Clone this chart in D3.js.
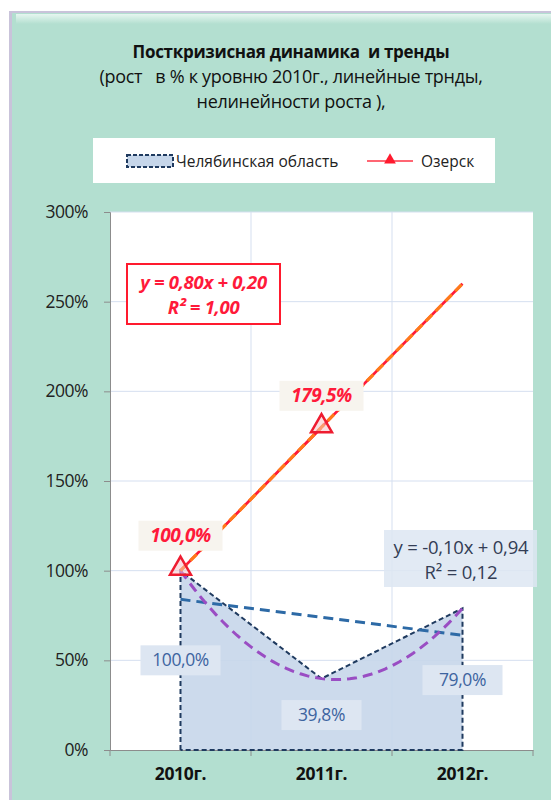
<!DOCTYPE html>
<html><head><meta charset="utf-8">
<script src="https://cdn.jsdelivr.net/npm/d3@7"></script>
<style>body{margin:0;background:#fff;}svg{display:block;} text{white-space:pre;}</style>
</head><body>
<script>
const categories = ["2010г.", "2011г.", "2012г."];
const chelyabinsk = [1.000, 0.398, 0.790];
const ozersk = [1.000, 1.795];
const chelLabels = ["100,0%", "39,8%", "79,0%"];
const ozLabels = ["100,0%", "179,5%"];
const yTicks = [0, 0.5, 1, 1.5, 2, 2.5, 3];
const ozTrend = {a: 0.80, b: 0.20, text: ["y = 0,80x + 0,20", "R² = 1,00"]};
const chelTrend = {a: -0.10, b: 0.94, text: ["y = -0,10x + 0,94", "R² = 0,12"]};
const titleLines = ["Посткризисная динамика  и тренды", "(рост   в % к уровню 2010г., линейные трнды,", "нелинейности роста ),"];
const legendNames = ["Челябинская область", "Озерск"];

const W = 551, H = 800;
const font = "'Open Sans', sans-serif";
const svg = d3.select("body").append("svg").attr("width", W).attr("height", H);

// panel
const defs = svg.append("defs");
const g1 = defs.append("linearGradient").attr("id","bevel").attr("x1",0).attr("y1",0).attr("x2",0).attr("y2",1);
g1.append("stop").attr("offset",0).attr("stop-color","#e6f6f0");
g1.append("stop").attr("offset",1).attr("stop-color","#b3dfd0");
svg.append("rect").attr("x",9).attr("y",11).attr("width",W-9).attr("height",H-11).attr("fill","#c9c3da");
svg.append("rect").attr("x",12).attr("y",13).attr("width",W-12).attr("height",H-13).attr("fill","#b3dfd0");
svg.append("rect").attr("x",16).attr("y",14).attr("width",W-16).attr("height",10).attr("fill","url(#bevel)");

// title
const tt = svg.append("g").attr("font-family", font).attr("fill","#111").attr("text-anchor","middle");
titleLines.forEach((t,i)=>{
  tt.append("text").attr("x",291).attr("y",58+i*25).attr("font-size",i===0?17:18)
    .attr("font-weight", i===0?"bold":"normal").attr("letter-spacing", -0.3).text(t);
});

// legend
svg.append("rect").attr("x",93).attr("y",138).attr("width",402).attr("height",45).attr("fill","#fff");
svg.append("rect").attr("x",127).attr("y",155).attr("width",46).attr("height",12).attr("fill","#c6d6ea")
  .attr("stroke","#1f3a5f").attr("stroke-width",2).attr("stroke-dasharray","4,2");
svg.append("text").attr("x",176).attr("y",167).attr("font-family",font).attr("font-size",15.5).attr("fill","#222").text(legendNames[0]);
svg.append("line").attr("x1",367).attr("x2",413).attr("y1",161).attr("y2",161).attr("stroke","#ff3344").attr("stroke-width",1.5);
svg.append("path").attr("d", d3.symbol(d3.symbolTriangle, 60)()).attr("transform","translate(390,160)").attr("fill","#ff1a2e");
svg.append("text").attr("x",421).attr("y",167).attr("font-family",font).attr("font-size",15.5).attr("fill","#222").text(legendNames[1]);

// scales
const x = d3.scaleBand().domain(categories).range([110, 533]);
const xc = d => x(d) + x.bandwidth()/2;
const y = d3.scaleLinear().domain([0,3]).range([750, 212]);
const xi = i => xc(categories[i]);

svg.append("rect").attr("x",110).attr("y",212).attr("width",423).attr("height",538).attr("fill","#fff");

// gridlines
svg.append("g").selectAll("line").data(yTicks.slice(1)).join("line")
  .attr("x1",110).attr("x2",533).attr("y1",d=>y(d)).attr("y2",d=>y(d)).attr("stroke","#d5dff0").attr("stroke-width",1);
svg.append("g").selectAll("line").data(categories.slice(1)).join("line")
  .attr("x1",d=>x(d)).attr("x2",d=>x(d)).attr("y1",212).attr("y2",750).attr("stroke","#d5dff0").attr("stroke-width",1);

// axes
const yAxis = svg.append("g").attr("transform","translate(110,0)")
  .call(d3.axisLeft(y).tickValues(yTicks).tickFormat(d=>d3.format(".0%")(d)).tickSize(6).tickPadding(16));
yAxis.select(".domain").attr("stroke","#8c8c8c");
yAxis.selectAll(".tick line").attr("stroke","#8c8c8c");
yAxis.selectAll("text").attr("font-family",font).attr("font-size",17.5).attr("fill","#222").attr("letter-spacing",-0.5);

const xAxis = svg.append("g").attr("transform","translate(0,750)")
  .call(d3.axisBottom(x).tickSize(0).tickPadding(18));
xAxis.select(".domain").attr("stroke","#8c8c8c");
xAxis.selectAll(".tick line").remove();
xAxis.selectAll("text").attr("font-family",font).attr("font-size",17.5).attr("font-weight","bold").attr("fill","#111").attr("letter-spacing",-0.3);
svg.append("g").selectAll("line").data(categories.concat(["end"])).join("line")
  .attr("x1",(d,i)=> i<3 ? x(d) : 533).attr("x2",(d,i)=> i<3 ? x(d) : 533)
  .attr("y1",750).attr("y2",756).attr("stroke","#8c8c8c");

// Chelyabinsk area
const area = d3.area().x((d,i)=>xi(i)).y0(y(0)).y1(d=>y(d));
svg.append("path").attr("d", area(chelyabinsk)).attr("fill","#c6d6ea").attr("fill-opacity",0.9);
const outline = [[xi(0), y(0)]].concat(chelyabinsk.map((d,i)=>[xi(i), y(d)])).concat([[xi(2), y(0)], [xi(0), y(0)]]);
svg.append("path").attr("d", d3.line()(outline)).attr("fill","none").attr("stroke","#1f3a5f")
  .attr("stroke-width",2).attr("stroke-dasharray","5,3");

// Chelyabinsk linear trend
svg.append("path").attr("d", d3.line()([[xi(0), y(chelTrend.a*1+chelTrend.b)], [xi(2), y(chelTrend.a*3+chelTrend.b)]]))
  .attr("stroke","#2d6aa6").attr("stroke-width",3).attr("stroke-dasharray","10,6").attr("fill","none");

// polynomial trend (quadratic through the 3 points)
const [p1,p2,p3] = chelyabinsk;
const qa = (p3 - 2*p2 + p1)/2, qb = (p2 - p1) - 3*qa, qc = p1 - qa - qb;
const polyPts = d3.range(1, 3.001, 0.05).map(t => [xi(0) + (t-1)*(xi(1)-xi(0)), y(qa*t*t + qb*t + qc)]);
svg.append("path").attr("d", d3.line()(polyPts)).attr("fill","none").attr("stroke","#9a4dc3")
  .attr("stroke-width",3).attr("stroke-dasharray","10,6");

// Ozersk series
svg.append("path").attr("d", d3.line().x((d,i)=>xi(i)).y(d=>y(d))(ozersk)).attr("fill","none").attr("stroke","#ff2233").attr("stroke-width",2);
// Ozersk trend
const ozT = [[xi(0), y(ozTrend.a*1+ozTrend.b)], [xi(2), y(ozTrend.a*3+ozTrend.b)]];
svg.append("path").attr("d", d3.line()(ozT)).attr("stroke","#ff1a3a").attr("stroke-width",2.6).attr("fill","none");
svg.append("path").attr("d", d3.line()(ozT)).attr("stroke","#ff7a1a").attr("stroke-width",3.2)
  .attr("stroke-dasharray","9,5").attr("fill","none");

// markers
svg.append("g").selectAll("path").data(ozersk).join("path")
  .attr("d", d3.symbol(d3.symbolTriangle, 190)())
  .attr("transform",(d,i)=>`translate(${xi(i)},${y(d)-2})`)
  .attr("fill","#f7c0c5").attr("fill-opacity",0.5).attr("stroke","#ee1c30").attr("stroke-width",2.5);

// Chelyabinsk labels
const chelLabelPos = [y(0.5), y(0.195), y(0.39)];
chelLabels.forEach((t,i)=>{
  const g = svg.append("g").attr("transform",`translate(${xi(i)},${chelLabelPos[i]})`);
  g.append("rect").attr("x",-40).attr("y",-15).attr("width",80).attr("height",30).attr("fill","#dde6f2");
  g.append("text").attr("text-anchor","middle").attr("y",6).attr("font-family",font).attr("font-size",17.5)
    .attr("letter-spacing",-0.4).attr("fill","#3d64a0").text(t);
});
// Ozersk labels
const ozLabelPos = [y(1.195), y(1.975)];
ozLabels.forEach((t,i)=>{
  const g = svg.append("g").attr("transform",`translate(${xi(i)},${ozLabelPos[i]})`);
  g.append("rect").attr("x",-42).attr("y",-15).attr("width",84).attr("height",30).attr("fill","#f7f4ee");
  g.append("text").attr("text-anchor","middle").attr("y",6).attr("font-family",font).attr("font-size",19)
    .attr("letter-spacing",-0.5).attr("font-weight","bold").attr("font-style","italic").attr("fill","#ff1a3a").text(t);
});

// equation boxes
const eq1 = svg.append("g");
eq1.append("rect").attr("x",127).attr("y",264).attr("width",153).attr("height",60).attr("fill","#fff").attr("stroke","#ff1a2e").attr("stroke-width",2);
ozTrend.text.forEach((t,i)=> eq1.append("text").attr("x",203.5).attr("y",289+i*25).attr("text-anchor","middle")
  .attr("font-family",font).attr("font-size",18.5).attr("letter-spacing",-0.3).attr("font-weight","bold").attr("font-style","italic").attr("fill","#ff1a3a").text(t));

const eq2 = svg.append("g");
eq2.append("rect").attr("x",384).attr("y",530).attr("width",153).attr("height",57).attr("fill","#dde6f2").attr("fill-opacity",0.85);
chelTrend.text.forEach((t,i)=> eq2.append("text").attr("x",461).attr("y",554+i*25).attr("text-anchor","middle")
  .attr("font-family",font).attr("font-size",18.5).attr("letter-spacing",-0.2).attr("fill","#333d55").text(t));
</script>
</body></html>
